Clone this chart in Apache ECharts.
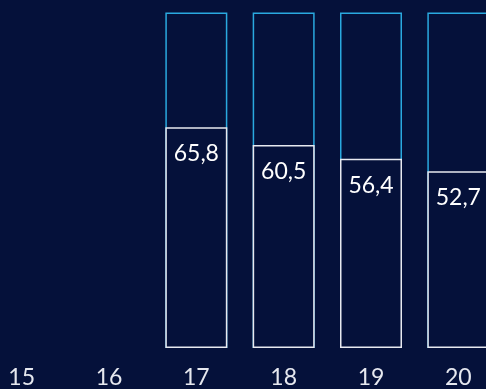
<!DOCTYPE html>
<html>
<head>
<meta charset="utf-8">
<style>
html,body{margin:0;padding:0;background:#05113a;overflow:hidden;width:486px;height:389px;}
#c{width:524px;height:389px;position:absolute;left:-22px;top:0;}
</style>
<script src="https://cdn.jsdelivr.net/npm/echarts@6/dist/echarts.min.js"></script>
</head>
<body>
<div id="c"></div>
<script>
const categories = ['15', '16', '17', '18', '19', '20'];
const values = [null, null, 65.8, 60.5, 56.4, 52.7];
const totals = [null, null, 100, 100, 100, 100];

const chart = echarts.init(document.getElementById('c'));
chart.setOption({
  backgroundColor: '#05113a',
  animation: false,
  grid: { left: 0, right: 0, top: 12.5, bottom: 39.5, containLabel: false },
  xAxis: {
    type: 'category',
    data: categories,
    axisLine: { show: false },
    axisTick: { show: false },
    axisLabel: { color: '#e6e8ef', fontSize: 23, fontFamily: 'Lato', margin: 18 }
  },
  yAxis: {
    type: 'value', min: 0, max: 100, show: false,
    splitLine: { show: false }
  },
  series: [
    {
      type: 'bar',
      data: totals,
      barWidth: 62,
      barGap: '-100%',
      z: 1,
      itemStyle: { color: '#05113a', borderColor: '#2aa9df', borderWidth: 1.5 },
      silent: true
    },
    {
      type: 'bar',
      data: values,
      barWidth: 62,
      z: 2,
      itemStyle: { color: '#05113a', borderColor: '#e8e9f0', borderWidth: 1.5 },
      label: {
        show: true,
        position: 'insideTop',
        distance: 15,
        color: '#ffffff',
        fontSize: 23,
        fontFamily: 'Lato',
        formatter: p => String(p.value).replace('.', ',')
      }
    }
  ]
});
</script>
</body>
</html>
